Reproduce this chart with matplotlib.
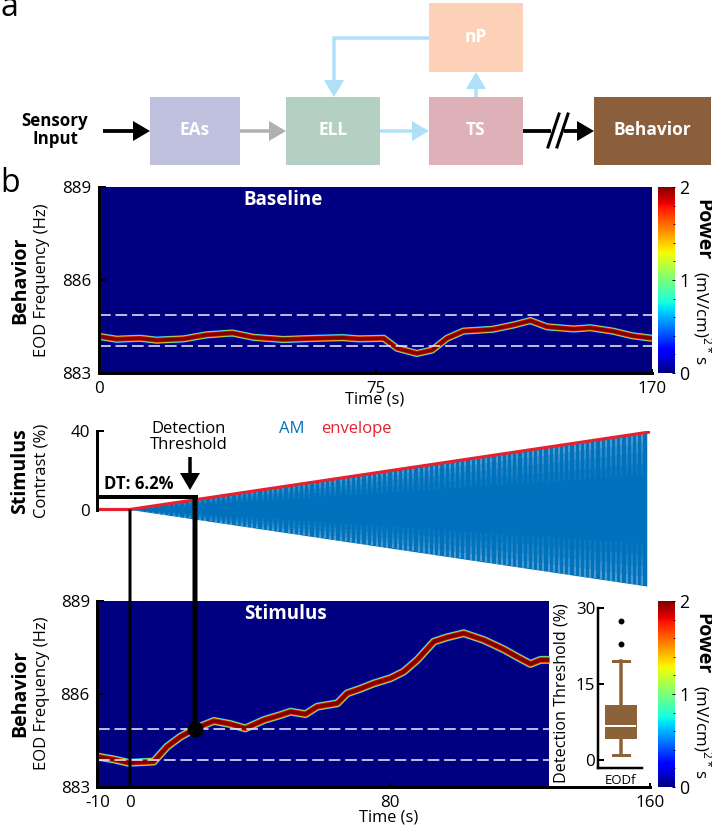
import matplotlib
matplotlib.use("Agg")
import numpy as np
import matplotlib.pyplot as plt
from matplotlib.patches import Rectangle, Polygon, ConnectionPatch

plt.rcParams['font.family'] = ['Open Sans', 'DejaVu Sans']
plt.rcParams['mathtext.fontset'] = 'custom'
plt.rcParams['mathtext.rm'] = 'Open Sans'

W, H = 712, 827
PX = 0.72  # points per pixel at dpi 100

# ---- data ----
base_t = [0, 5.4, 12.6, 17.7, 26, 33, 41, 47.5, 56.7, 67, 75, 80, 87.5, 91.6, 97.7, 102.4, 107,
          112, 121, 127.5, 132.6, 137.7, 146, 151, 158, 164, 170]
base_f = [884.18, 884.09, 884.12, 884.06, 884.10, 884.23, 884.29, 884.15, 884.08, 884.12, 884.14,
          884.10, 884.12, 883.80, 883.63, 883.74, 884.12, 884.35, 884.41, 884.55, 884.69, 884.49,
          884.42, 884.46, 884.35, 884.20, 884.12]
stim_t = [-10, -5, -0.4, 7.3, 11.4, 15.5, 20.2, 25.8, 30.9, 35.5, 41.2, 46.3, 49.4, 54, 57.6, 63.8,
          66.8, 70.9, 75, 80.2, 84.2, 88.4, 93.5, 97.6, 102.7, 108.9, 115, 119.1, 123.2, 126.3, 129]
stim_f = [883.98, 883.89, 883.78, 883.82, 884.30, 884.62, 884.89, 885.13, 885.03, 884.89, 885.16,
          885.32, 885.43, 885.35, 885.59, 885.70, 886.02, 886.17, 886.34, 886.51, 886.72, 887.10,
          887.69, 887.83, 887.96, 887.74, 887.44, 887.20, 886.97, 887.10, 887.10]
band_low, band_high = 883.86, 884.87

env_t = [-10, 0, 160]
env_v = [0, 0, 39.5]
am_end_t = 159
am_end_v = 39.0
dt_time = 20.0
dt_value = 6.2

box_stats = dict(med=6.7, q1=4.3, q3=10.8, whislo=0.9, whishi=19.6, fliers=[22.8, 27.4], label='')
cbar_ticks = [0, 1, 2]

navy = plt.get_cmap('jet')(0.0)
brown = '#8c6239'
blue = '#0072bd'
red = '#e2232f'
ltblue = '#aee1f8'
gray = '#b0b0b0'
FS = 12.2

fig = plt.figure(figsize=(W / 100, H / 100), dpi=100, facecolor='white')


def pxax(l, t, r, b, **kw):
    return fig.add_axes([l / W, 1 - b / H, (r - l) / W, (b - t) / H], **kw)


def style(ax, xticks, xlabels, yticks, ylabels):
    for s in ('top', 'right'):
        ax.spines[s].set_visible(False)
    for s in ('left', 'bottom'):
        ax.spines[s].set_linewidth(3 * PX)
    ax.set_xticks(xticks, xlabels)
    ax.set_yticks(yticks, ylabels)
    ax.tick_params(axis='y', direction='in', length=7 * PX, width=2 * PX, pad=5.5, labelsize=FS)
    ax.tick_params(axis='x', direction='in', length=4 * PX, width=2 * PX, pad=5.5, labelsize=FS)


def ridge(ax, t, f, scale=1.0):
    layers = [(8.4, '#0a50ff'), (7.6, '#20d0e0'), (6.8, '#c0f040'), (6.0, '#f08010'),
              (5.0, '#d01000'), (3.6, '#800000')]
    for w, c in layers:
        ax.plot(t, f, color=c, lw=w * scale * PX, solid_capstyle='butt', solid_joinstyle='round')


def band(ax, x0, x1):
    for v in (band_low, band_high):
        ax.plot([x0, x1], [v, v], color='#e8e8f8', lw=1.6 * PX, ls=(0, (7.3, 3)))


def colorbar(t, b):
    c = pxax(658, t, 675, b)
    c.imshow(np.linspace(2, 0, 256)[:, None], aspect='auto', cmap='jet', extent=[0, 1, 0, 2], vmin=0, vmax=2)
    for s in c.spines.values():
        s.set_visible(False)
    c.set_xticks([])
    c.yaxis.tick_right()
    c.set_yticks(cbar_ticks, [str(v) for v in cbar_ticks])
    c.set_yticks(np.arange(0, 2.01, 0.2), minor=True)
    c.tick_params(axis='y', which='major', direction='in', length=3 * PX, width=1 * PX, pad=3, labelsize=FS + 0.6)
    c.tick_params(axis='y', which='minor', direction='in', length=2 * PX, width=0.8 * PX)
    return c


# ---- baseline spectrogram ----
ax_top = pxax(99, 187, 652, 373)
ax_top.set_facecolor(navy)
ax_top.set_xlim(0, 170)
ax_top.set_ylim(883, 889)
ridge(ax_top, base_t, base_f, 0.9)
band(ax_top, 0, 170)
style(ax_top, [0, 85, 170], ['0', '75', '170'], [883, 886, 889], ['883', '886', '889'])
colorbar(187, 373)

# ---- stimulus ----
ax_mid = pxax(97.5, 431, 650, 588)
ax_mid.patch.set_alpha(0)
ax_mid.set_xlim(-10, 160)
ax_mid.set_ylim(-40, 40)
am_t = np.array([0, am_end_t])
am_v = np.array([0, am_end_v])
ax_mid.fill_between(am_t, -am_v, am_v, color=blue, lw=0)
st = np.arange(0.8, am_end_t, 1.6)
ev = st * am_end_v / am_end_t
for lo, a in ((0.45, 0.05), (0.6, 0.07), (0.75, 0.09), (0.88, 0.12)):
    for sign in (1, -1):
        ax_mid.vlines(st, sign * lo * ev, sign * ev, color='white', alpha=a, lw=2.2 * PX)
ax_mid.plot(env_t, env_v, color=red, lw=3.2 * PX, solid_capstyle='butt')
ax_mid.plot([-10, dt_time + 0.8], [dt_value, dt_value], color='black', lw=4 * PX, solid_capstyle='butt')
style(ax_mid, [], [], [0, 40], ['0', '40'])
ax_mid.spines['bottom'].set_visible(False)
ax_mid.spines['left'].set_bounds(0, 40)

# ---- stimulus spectrogram ----
ax_bot = pxax(97.5, 601, 650, 787)
ax_bot.set_xlim(-10, 160)
ax_bot.set_ylim(883, 889)
ax_bot.axvspan(-10, 129, color=navy, lw=0)
ridge(ax_bot, stim_t, stim_f, 1.0)
band(ax_bot, -10, 129)
ax_bot.plot([dt_time], [band_high], 'o', color='black', ms=16 * PX, mew=0, zorder=6)
style(ax_bot, [-10, 0, 80, 160], ['-10', '0', '80', '160'], [883, 886, 889], ['883', '886', '889'])
colorbar(601, 787)

# connectors
fig.add_artist(ConnectionPatch((0, 0), (0, 883), coordsA=ax_mid.transData, coordsB=ax_bot.transData,
                               color='black', lw=3 * PX, capstyle='butt'))
fig.add_artist(ConnectionPatch((dt_time, dt_value), (dt_time, band_high), coordsA=ax_mid.transData,
                               coordsB=ax_bot.transData, color='black', lw=5 * PX, capstyle='butt'))

# ---- inset box plot ----
ax_in = pxax(598, 608, 642, 768)
ax_in.patch.set_alpha(0)
ax_in.set_xlim(0, 1)
ax_in.set_ylim(-1.6, 30)
ax_in.bxp([box_stats], positions=[0.516], widths=[0.70], capwidths=[0.364], patch_artist=True,
          boxprops=dict(facecolor=brown, edgecolor=brown, lw=1 * PX),
          medianprops=dict(color='white', lw=2 * PX, solid_capstyle='butt'),
          whiskerprops=dict(color=brown, lw=3.5 * PX),
          capprops=dict(color=brown, lw=3 * PX),
          flierprops=dict(marker='o', mfc='black', mec='black', ms=4.5 * PX))
for s in ('top', 'right'):
    ax_in.spines[s].set_visible(False)
for s in ('left', 'bottom'):
    ax_in.spines[s].set_linewidth(2.5 * PX)
ax_in.set_xticks([])
ax_in.set_yticks([0, 15, 30], ['0', '15', '30'])
ax_in.tick_params(axis='y', direction='in', length=6 * PX, width=2 * PX, pad=2, labelsize=FS)

# ---- overlay: schematic and annotations, in pixels ----
ov = fig.add_axes([0, 0, 1, 1], zorder=10)
ov.patch.set_alpha(0)
ov.set_xlim(0, W)
ov.set_ylim(H, 0)
ov.axis('off')

boxes = [('EAs', 150, 97, 240, 165, '#c0c0df'), ('ELL', 286, 97, 380, 165, '#b4d0c2'),
         ('TS', 429, 97, 523, 165, '#deb0b8'), ('nP', 429, 3, 523, 72, '#fdd0b8'),
         ('Behavior', 594, 97, 711, 165, '#8c5f3c')]
for name, x0, y0, x1, y1, c in boxes:
    ov.add_patch(Rectangle((x0, y0), x1 - x0, y1 - y0, fc=c, ec='none'))
    ov.text((x0 + x1) / 2, (y0 + y1) / 2 - 1, name, color='white', ha='center', va='center',
            fontsize=12.5, fontweight='bold')


def arrow(pts, c, lw=3.5, head=(17, 10)):
    (x0, y0), (x1, y1) = pts[-2], pts[-1]
    d = np.array([x1 - x0, y1 - y0], float)
    d /= np.hypot(*d)
    n = np.array([-d[1], d[0]])
    tip = np.array([x1, y1], float)
    base = tip - d * head[0]
    xs = [p[0] for p in pts[:-1]] + [base[0]]
    ys = [p[1] for p in pts[:-1]] + [base[1]]
    ov.plot(xs, ys, color=c, lw=lw * PX, solid_capstyle='butt', solid_joinstyle='miter')
    ov.add_patch(Polygon([tip, base + n * head[1], base - n * head[1]], fc=c, ec='none'))


arrow([(103, 131), (150, 131)], 'black', 3.8)
arrow([(240, 131), (286, 131)], gray)
arrow([(380, 131), (429, 131)], ltblue)
arrow([(429, 38), (334, 38), (334, 97)], ltblue)
arrow([(476, 97), (476, 72)], ltblue)
ov.plot([523, 551], [131, 131], color='black', lw=3.8 * PX, solid_capstyle='butt')
arrow([(564, 131), (594, 131)], 'black', 3.8)
ov.plot([548, 559], [147, 114], color='black', lw=3 * PX)
ov.plot([557, 568], [147, 114], color='black', lw=3 * PX)
ov.text(55, 130, 'Sensory\nInput', ha='center', va='center', fontsize=12.2, fontweight='bold',
        linespacing=1.0)
ov.text(0, 8, 'a', ha='left', va='center', fontsize=23)
ov.text(0, 184, 'b', ha='left', va='center', fontsize=23)

ov.text(283, 200, 'Baseline', color='white', ha='center', va='center', fontsize=13.5, fontweight='bold')
ov.text(285.5, 614, 'Stimulus', color='white', ha='center', va='center', fontsize=13.5, fontweight='bold')
ov.text(375, 399, 'Time (s)', ha='center', va='center', fontsize=FS - 0.4)
ov.text(389, 818, 'Time (s)', ha='center', va='center', fontsize=FS - 0.4)

for y, bold, light in ((280, 'Behavior', 'EOD Frequency (Hz)'), (471, 'Stimulus', 'Contrast (%)'),
                       (693, 'Behavior', 'EOD Frequency (Hz)')):
    ov.text(20, y, bold, rotation=90, ha='center', va='center', fontsize=14, fontweight='bold')
    ov.text(42, y, light, rotation=90, ha='center', va='center', fontsize=FS - 0.2)

for y0 in (187, 601):
    ov.text(702, y0 + 12, 'Power', rotation=270, ha='center', va='top', fontsize=14, fontweight='bold')
    ov.text(702, y0 + 84, '(mV/cm)$^{2*}$s', rotation=270, ha='center', va='top', fontsize=FS)

ov.text(189, 437, 'Detection\nThreshold', ha='center', va='center', fontsize=12, linespacing=0.95)
arrow([(190, 457), (190, 490)], 'black', 3.5, head=(17, 10))
ov.text(104, 484, 'DT: 6.2%', ha='left', va='center', fontsize=12, fontweight='bold')
ov.text(279, 429, 'AM', color=blue, ha='left', va='center', fontsize=12)
ov.text(321, 429, 'envelope', color=red, ha='left', va='center', fontsize=12)
ov.text(562, 693, 'Detection Threshold (%)', rotation=90, ha='center', va='center', fontsize=11.6)
ov.text(620, 780, 'EODf', ha='center', va='center', fontsize=9.5)

fig.savefig('out.png', dpi=100)
